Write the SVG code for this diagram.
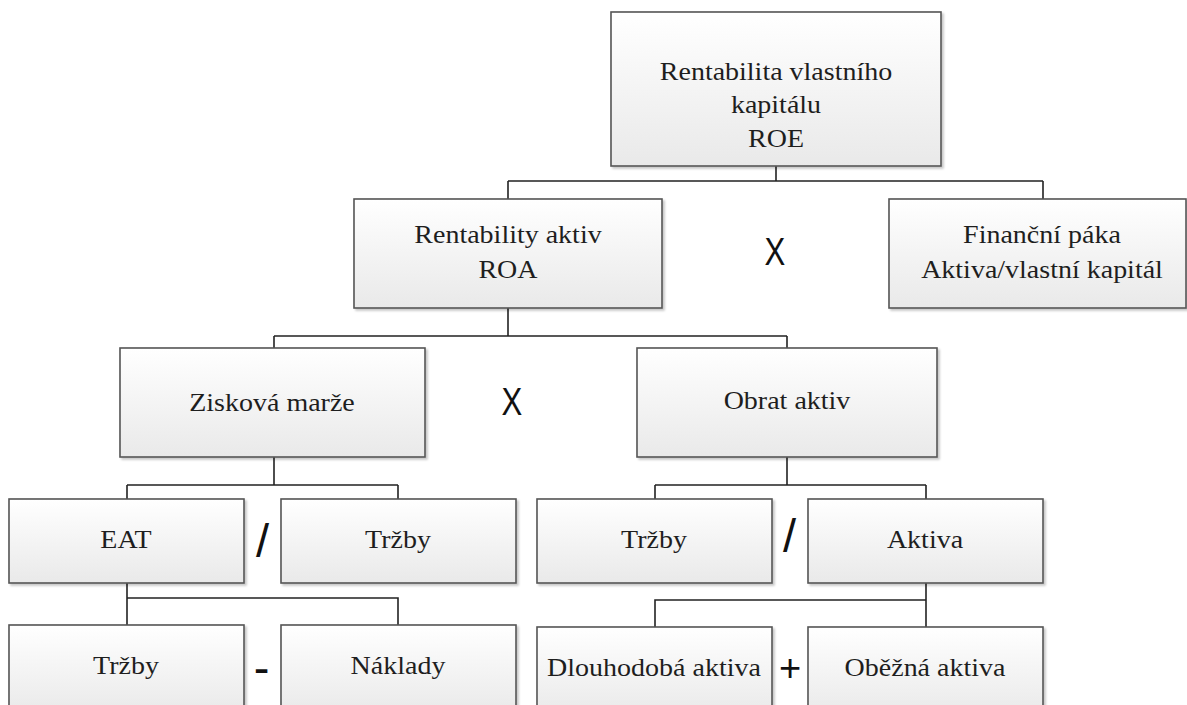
<svg xmlns="http://www.w3.org/2000/svg" width="1187" height="705" viewBox="0 0 1187 705">
  <defs>
    <linearGradient id="boxFill" x1="0" y1="0" x2="0" y2="1">
      <stop offset="0" stop-color="#ffffff"/>
      <stop offset="1" stop-color="#e9e9e9"/>
    </linearGradient>
    <filter id="shadow" x="-5%" y="-5%" width="115%" height="120%">
      <feDropShadow dx="2" dy="2" stdDeviation="1.2" flood-color="#000000" flood-opacity="0.22"/>
    </filter>
  </defs>
  <style>
    .box { fill: url(#boxFill); stroke: #555555; stroke-width: 1.6; filter: url(#shadow); }
    text.lbl { font-family: 'Liberation Serif', 'DejaVu Serif', serif; font-size: 25px; fill: #1e1e1e; text-anchor: middle; }
    text.op { font-family: 'Liberation Sans', 'DejaVu Sans', sans-serif; fill: #111111; text-anchor: middle; }
    .conn { fill: none; stroke: #222222; stroke-width: 1.6; }
  </style>
  <rect width="1187" height="705" fill="#ffffff"/>

  <!-- tree connectors -->
  <g id="connectors" class="conn">
    <path d="M776 166 V181 M508 181 H1043 M508 181 V199 M1043 181 V199"/>
    <path d="M508 308 V336 M274 336 H787 M274 336 V348 M787 336 V348"/>
    <path d="M274 457 V485 M127 485 H398 M127 485 V499 M398 485 V499"/>
    <path d="M787 457 V485 M655 485 H926 M655 485 V499 M926 485 V499"/>
    <path d="M127 583 V598 H398 V625 M127 598 V625"/>
    <path d="M926 583 V600 H655 V627 M926 600 V627"/>
  </g>

  <!-- level 0 -->
  <g id="roe" font-family="Liberation Serif, DejaVu Serif, serif">
    <rect class="box" x="611" y="12" width="330" height="154"/>
    <text class="lbl" transform="translate(776 80) scale(1.12 1)">Rentabilita vlastního</text>
    <text class="lbl" transform="translate(776 113) scale(1.12 1)">kapitálu</text>
    <text class="lbl" transform="translate(776 147) scale(1.12 1)">ROE</text>
  </g>

  <!-- level 1 -->
  <g id="roa">
    <rect class="box" x="354" y="199" width="308" height="109"/>
    <text class="lbl" transform="translate(508 243) scale(1.12 1)">Rentability aktiv</text>
    <text class="lbl" transform="translate(508 278) scale(1.12 1)">ROA</text>
  </g>
  <g id="op-times-1">
    <text class="op" font-size="38" transform="translate(775 265) scale(0.82 1)">X</text>
  </g>
  <g id="financni-paka">
    <rect class="box" x="889" y="199" width="297" height="109"/>
    <text class="lbl" transform="translate(1042 243) scale(1.12 1)">Finanční páka</text>
    <text class="lbl" transform="translate(1042 278) scale(1.12 1)">Aktiva/vlastní kapitál</text>
  </g>

  <!-- level 2 -->
  <g id="ziskova-marze">
    <rect class="box" x="120" y="348" width="305" height="109"/>
    <text class="lbl" transform="translate(272 411) scale(1.12 1)">Zisková marže</text>
  </g>
  <g id="op-times-2">
    <text class="op" font-size="38" transform="translate(512 415) scale(0.82 1)">X</text>
  </g>
  <g id="obrat-aktiv">
    <rect class="box" x="637" y="348" width="300" height="109"/>
    <text class="lbl" transform="translate(787 409) scale(1.12 1)">Obrat aktiv</text>
  </g>

  <!-- level 3 -->
  <g id="eat">
    <rect class="box" x="9" y="499" width="235" height="84"/>
    <text class="lbl" transform="translate(126 548) scale(1.12 1)">EAT</text>
  </g>
  <g id="op-div-1">
    <text class="op" font-size="47" transform="translate(262.5 557)">/</text>
  </g>
  <g id="trzby-1">
    <rect class="box" x="281" y="499" width="235" height="84"/>
    <text class="lbl" transform="translate(398 548) scale(1.12 1)">Tržby</text>
  </g>
  <g id="trzby-2">
    <rect class="box" x="537" y="499" width="235" height="84"/>
    <text class="lbl" transform="translate(654 548) scale(1.12 1)">Tržby</text>
  </g>
  <g id="op-div-2">
    <text class="op" font-size="47" transform="translate(789.5 552)">/</text>
  </g>
  <g id="aktiva">
    <rect class="box" x="808" y="499" width="235" height="84"/>
    <text class="lbl" transform="translate(925 548) scale(1.12 1)">Aktiva</text>
  </g>

  <!-- level 4 -->
  <g id="trzby-3">
    <rect class="box" x="9" y="625" width="235" height="90"/>
    <text class="lbl" transform="translate(126 674) scale(1.12 1)">Tržby</text>
  </g>
  <g id="op-minus">
    <text class="op" font-size="47" transform="translate(261.5 684)">-</text>
  </g>
  <g id="naklady">
    <rect class="box" x="281" y="625" width="235" height="90"/>
    <text class="lbl" transform="translate(398 674) scale(1.12 1)">Náklady</text>
  </g>
  <g id="dlouhodoba-aktiva">
    <rect class="box" x="537" y="627" width="235" height="90"/>
    <text class="lbl" transform="translate(654 676) scale(1.12 1)">Dlouhodobá aktiva</text>
  </g>
  <g id="op-plus">
    <text class="op" font-size="38" transform="translate(790 681)">+</text>
  </g>
  <g id="obezna-aktiva">
    <rect class="box" x="808" y="627" width="235" height="90"/>
    <text class="lbl" transform="translate(925 676) scale(1.12 1)">Oběžná aktiva</text>
  </g>
</svg>
